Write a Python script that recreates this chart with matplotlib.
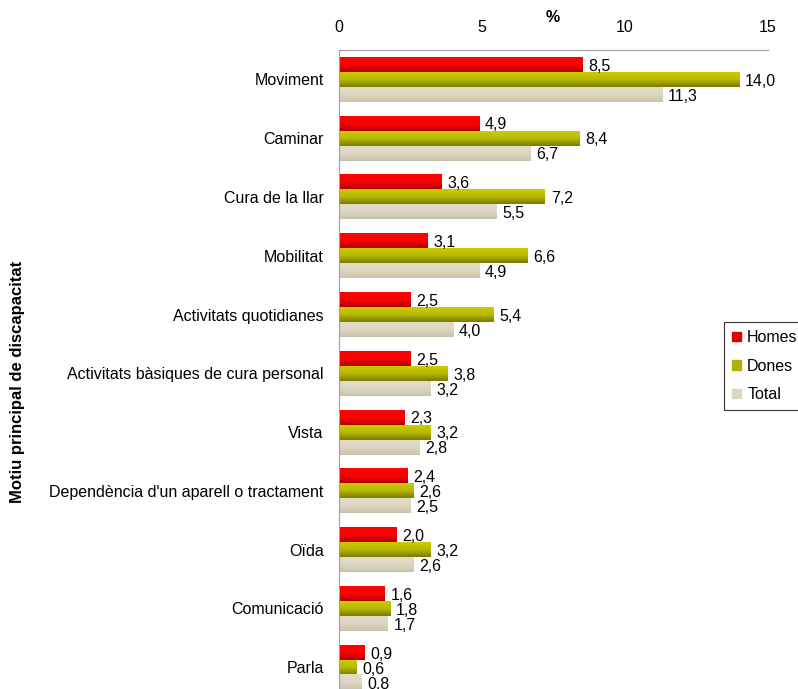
import numpy as np
from matplotlib import pyplot as plt
from matplotlib.colors import LinearSegmentedColormap
from matplotlib.patches import Patch

plt.rcParams['font.family'] = ['Liberation Sans', 'DejaVu Sans']

categories = ['Moviment', 'Caminar', 'Cura de la llar', 'Mobilitat',
              'Activitats quotidianes', 'Activitats bàsiques de cura personal',
              'Vista', "Dependència d'un aparell o tractament", 'Oïda',
              'Comunicació', 'Parla']
homes = [8.5, 4.9, 3.6, 3.1, 2.5, 2.5, 2.3, 2.4, 2.0, 1.6, 0.9]
dones = [14.0, 8.4, 7.2, 6.6, 5.4, 3.8, 3.2, 2.6, 3.2, 1.8, 0.6]
total = [11.3, 6.7, 5.5, 4.9, 4.0, 3.2, 2.8, 2.5, 2.6, 1.7, 0.8]
series = [('Homes', homes), ('Dones', dones), ('Total', total)]

# top -> bottom colour of each bar's gradient
grads = {'Homes': ('#ff0000', '#ff0000', '#b00000'),
         'Dones': ('#cccc00', '#b8b800', '#7a7a00'),
         'Total': ('#e2dcc8', '#ddd7c2', '#c8c2ae')}
solid = {'Homes': '#e00000', 'Dones': '#b0b000', 'Total': '#ddd7c2'}

fig = plt.figure(figsize=(7.98, 6.89), dpi=100)
ax = fig.add_axes([339/798, 0, (768-339)/798, (689-50)/689])

bh = 0.255
y = np.arange(len(categories))
for k, (name, vals) in enumerate(series):
    cmap = LinearSegmentedColormap.from_list(name, grads[name])
    grad = np.linspace(0, 1, 50).reshape(-1, 1)
    for i, v in enumerate(vals):
        yc = y[i] + (k - 1) * bh
        ax.imshow(grad, cmap=cmap, aspect='auto', interpolation='bilinear',
                  extent=(0, v, yc + bh/2, yc - bh/2), zorder=2)
        ax.text(v + 0.2, yc + 0.03, ('%.1f' % v).replace('.', ','),
                va='center', ha='left', fontsize=11.5, zorder=3)

ax.set_xlim(0, 15)
ax.set_ylim(10.37, -0.5)
ax.set_aspect('auto')
ax.xaxis.tick_top()
ax.set_xticks([0, 5, 10, 15])
ax.tick_params(axis='x', length=0, labelsize=11.5, pad=11)
ax.set_yticks(y)
ax.set_yticklabels(categories, fontsize=11.5)
ax.tick_params(axis='y', length=0, pad=11)
for s in ['right', 'bottom']:
    ax.spines[s].set_visible(False)
for s in ['left', 'top']:
    ax.spines[s].set_color('#a0a0a0')

fig.text(553/798, 1 - 18/689, '%', ha='center', va='center',
         fontsize=11.5, fontweight='bold')
fig.text(18/798, 1 - 382/689, 'Motiu principal de discapacitat', rotation=90,
         ha='center', va='center', fontsize=12, fontweight='bold')

handles = [Patch(color=solid[n], label=n) for n, _ in series]
leg = fig.legend(handles=handles, loc='upper left',
                 bbox_to_anchor=(724/798, 1 - 322/689), fontsize=11.5,
                 frameon=True, fancybox=False, edgecolor='black',
                 handlelength=0.55, handleheight=0.55, handletextpad=0.4,
                 labelspacing=0.85, borderpad=0.5, borderaxespad=0)
leg.get_frame().set_linewidth(0.8)

fig.savefig('out.png', dpi=100)
